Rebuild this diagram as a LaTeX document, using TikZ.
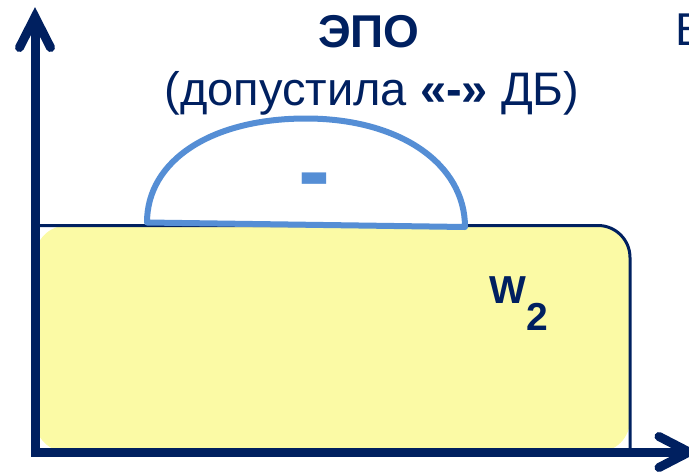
\documentclass[tikz,border=0pt]{standalone}
\usepackage{fontspec}
\setmainfont{Liberation Sans}
\definecolor{navy}{HTML}{002060}
\definecolor{domeblue}{HTML}{558ED5}
\definecolor{boxyellow}{HTML}{FBFAA5}
\tikzset{
  axisline/.style={navy, line width=9pt, line join=miter},
  axistip/.style={navy, line width=9pt, line cap=round, line join=miter},
  txt/.style={inner sep=0pt, text=navy},
}
\begin{document}
\begin{tikzpicture}[x=1pt,y=-1pt]
\useasboundingbox (0,0) rectangle (689,472);
% yellow region W2
\fill[boxyellow] (35,225.5) -- (598,225.5) [rounded corners=32pt] -- (630,225.5) -- (630,452) -- (35,452) -- cycle;
\draw[navy, line width=3pt] (35,225.5) -- (598,225.5) [rounded corners=32pt] -- (630,225.5) -- (630,452);
% dome
\coordinate (dl) at (147,222.5);
\coordinate (dt) at (306,118.5);
\coordinate (dr) at (465,227);
\draw[domeblue, line width=6pt, fill=white, line join=round]
  (dl) .. controls (147,160) and (212,118.5) .. (dt)
       .. controls (400,118.5) and (465,164) .. (dr) -- cycle;
\node[inner sep=0pt, text=domeblue, font=\bfseries\fontsize{96}{96}\selectfont, anchor=base] (minus) at (314,203) {-};
% axes
\coordinate (o) at (35,452);
\coordinate (ytip) at (35,17);
\coordinate (xtip) at (689,452);
\draw[axisline] (ytip) -- (o) -- (xtip);
\draw[axistip] (19.5,47.5) -- (ytip) -- (50.5,47.5);
\draw[axistip] (659,436.5) -- (xtip) -- (659,467.5);
% texts
\node[txt, font=\bfseries\fontsize{46}{46}\selectfont, anchor=base] (epo) at (369,47) {ЭПО};
\node[txt, font=\fontsize{47}{47}\selectfont, anchor=base] (sub) at (372,105) {(допустила {\bfseries «-»} ДБ)};
\node[txt, font=\fontsize{46}{46}\selectfont, anchor=base west] (vpo) at (675,45) {В};
\node[txt, font=\bfseries\fontsize{39}{39}\selectfont, anchor=base west] (w2) at (489,303) {W\raisebox{-27pt}{2}};
\end{tikzpicture}
\end{document}
